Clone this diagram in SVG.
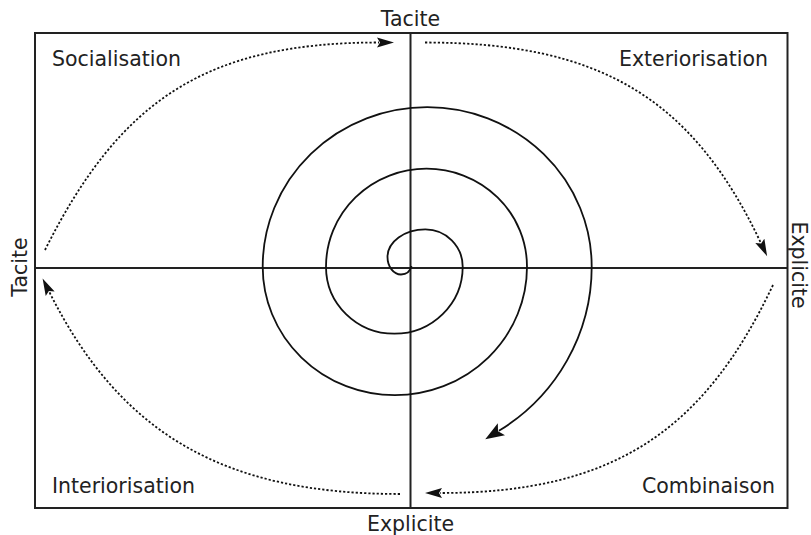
<svg xmlns="http://www.w3.org/2000/svg" width="811" height="535" viewBox="0 0 811 535">
<style>
.lbl{font-family:"DejaVu Sans","Liberation Sans",sans-serif;font-size:20.5px;fill:#222}
.frame{fill:none;stroke:#222;stroke-width:2}
.dot{fill:none;stroke:#111;stroke-width:1.8;stroke-dasharray:2.2 2}
.spiral{fill:none;stroke:#111;stroke-width:1.8}
</style>
<defs>
<marker id="ah" markerUnits="userSpaceOnUse" markerWidth="20" markerHeight="12" viewBox="0 -6 20 12" refX="2" refY="0" orient="auto">
<path d="M17,0 L0,-5 L3,0 L0,5 Z" fill="#111"/>
</marker>
<marker id="ahs" markerUnits="userSpaceOnUse" markerWidth="22" markerHeight="16" viewBox="0 -8 22 16" refX="3" refY="0" orient="auto">
<path d="M19,0 L0,-7 L4,0 L0,7 Z" fill="#111"/>
</marker>
</defs>
<g id="frame">
<rect class="frame" x="35" y="33" width="752.5" height="475"/>
<line class="frame" x1="410.5" y1="33" x2="410.5" y2="508"/>
<line class="frame" x1="35" y1="268" x2="787.5" y2="268"/>
</g>
<g id="labels">
<text class="lbl" x="410.5" y="26" text-anchor="middle">Tacite</text>
<text class="lbl" x="410.5" y="531" text-anchor="middle">Explicite</text>
<text class="lbl" transform="translate(27,267) rotate(-90)" text-anchor="middle">Tacite</text>
<text class="lbl" transform="translate(791.5,265) rotate(90)" text-anchor="middle">Explicite</text>
</g>
<g id="socialisation"><text class="lbl" x="52" y="66">Socialisation</text></g>
<g id="exteriorisation"><text class="lbl" x="768" y="66" text-anchor="end">Exteriorisation</text></g>
<g id="interiorisation"><text class="lbl" x="52" y="493">Interiorisation</text></g>
<g id="combinaison"><text class="lbl" x="775" y="493" text-anchor="end">Combinaison</text></g>
<g id="connectors">
<path class="dot" d="M45,250 C120,100 206,42.5 379,42.5" marker-end="url(#ah)"/>
<path class="dot" d="M425,42.5 C600,42.5 692.2,98 760.7,242.6" marker-end="url(#ah)"/>
<path class="dot" d="M773,285 C704.5,429.6 615,493 440,493" marker-end="url(#ah)"/>
<path class="dot" d="M400,494 C225,494 120.8,434.9 49.3,291.9" marker-end="url(#ah)"/>
<path id="spiral" class="spiral" marker-end="url(#ahs)" d="M411.5,266 C410,272 406,274.5 401,274.5 A13.5 17.5 0 0 1 387.5 257 C387.5,241.8 404.5,229.35 425.35,229.35 A37.35 37.35 0 0 1 462.7 266.7 A68.35 67 0 0 1 326 266.7 A100.5 98 0 0 1 527 266.7 A132.15 128.5 0 0 1 262.7 266.7 A164.5 159.5 0 0 1 591.7 266.7 A196.1 193 0 0 1 498.9 430.8"/>
</g>
</svg>
